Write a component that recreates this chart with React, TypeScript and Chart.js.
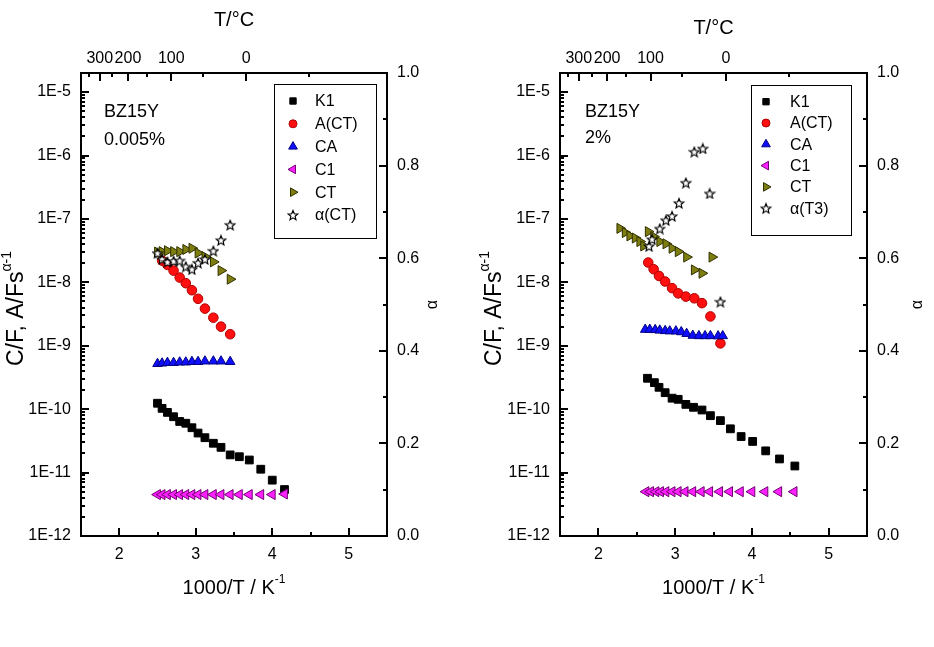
import React, { useEffect, useRef } from 'react';
import { Chart, registerables } from 'chart.js';
import { drawPoint } from 'chart.js/helpers';

Chart.register(...registerables);

const FONT = "'Liberation Sans', Arial, Helvetica, sans-serif";
const W = 467;
const H = 647;

// ---------- axis ticks ----------
const X_TICKS = [2, 3, 4, 5];
const X_MINOR = [2.5, 3.5, 4.5];
const TOP_T_LABELS = [300, 200, 100, 0];
const TOP_T_ALL = [350, 300, 250, 200, 150, 100, 50, 0, -50];
const Y_DECADES = [-12, -11, -10, -9, -8, -7, -6, -5];
const A_TICKS = [0, 0.2, 0.4, 0.6, 0.8, 1.0];

// ---------- left panel: BZ15Y 0.005% ----------
const L_K1_X = [2.50, 2.56, 2.63, 2.71, 2.79, 2.87, 2.95, 3.03, 3.12, 3.23, 3.33, 3.45, 3.57, 3.70, 3.85, 4.00, 4.16];
const L_K1_Y = [1.24e-10, 1.03e-10, 8.9e-11, 7.6e-11, 6.4e-11, 6.0e-11, 5.1e-11, 4.2e-11, 3.55e-11, 2.9e-11, 2.5e-11, 1.9e-11, 1.78e-11, 1.58e-11, 1.13e-11, 7.6e-12, 5.4e-12];
const L_ACT_X = [2.56, 2.63, 2.71, 2.79, 2.87, 2.95, 3.03, 3.12, 3.23, 3.33, 3.45];
const L_ACT_Y = [2.2e-8, 1.88e-8, 1.53e-8, 1.19e-8, 9.7e-9, 7.5e-9, 5.5e-9, 3.85e-9, 2.77e-9, 2.0e-9, 1.52e-9];
const L_CA_X = [2.50, 2.56, 2.63, 2.71, 2.79, 2.87, 2.95, 3.03, 3.12, 3.23, 3.33, 3.45];
const L_CA_Y = [5.2e-10, 5.3e-10, 5.4e-10, 5.4e-10, 5.5e-10, 5.5e-10, 5.6e-10, 5.6e-10, 5.7e-10, 5.7e-10, 5.7e-10, 5.6e-10];
const L_C1_X = [2.50, 2.56, 2.63, 2.71, 2.79, 2.87, 2.95, 3.03, 3.12, 3.23, 3.33, 3.45, 3.57, 3.70, 3.85, 4.00, 4.16];
const L_C1_Y = [4.5e-12, 4.5e-12, 4.5e-12, 4.5e-12, 4.5e-12, 4.5e-12, 4.5e-12, 4.5e-12, 4.5e-12, 4.5e-12, 4.5e-12, 4.5e-12, 4.5e-12, 4.5e-12, 4.5e-12, 4.5e-12, 4.6e-12];
const L_CT_X = [2.50, 2.56, 2.63, 2.71, 2.79, 2.87, 2.95, 3.03, 3.12, 3.23, 3.33, 3.45];
const L_CT_Y = [3.0e-8, 3.05e-8, 3.15e-8, 3.05e-8, 3.05e-8, 3.3e-8, 3.45e-8, 2.9e-8, 2.55e-8, 2.1e-8, 1.53e-8, 1.12e-8];
const L_AL_X = [2.50, 2.56, 2.63, 2.71, 2.79, 2.87, 2.95, 3.03, 3.12, 3.23, 3.33, 3.45];
const L_AL_Y = [0.611, 0.598, 0.592, 0.594, 0.595, 0.582, 0.576, 0.590, 0.598, 0.616, 0.639, 0.672];

// ---------- right panel: BZ15Y 2% ----------
const R_K1_X = [2.64, 2.73, 2.79, 2.87, 2.96, 3.04, 3.14, 3.24, 3.35, 3.46, 3.59, 3.72, 3.86, 4.01, 4.18, 4.36, 4.56];
const R_K1_Y = [3.07e-10, 2.62e-10, 2.21e-10, 1.82e-10, 1.49e-10, 1.43e-10, 1.19e-10, 1.07e-10, 9.7e-11, 7.9e-11, 6.6e-11, 4.9e-11, 3.7e-11, 3.1e-11, 2.2e-11, 1.64e-11, 1.27e-11];
const R_ACT_X = [2.65, 2.72, 2.79, 2.87, 2.96, 3.04, 3.14, 3.25, 3.35, 3.46, 3.59];
const R_ACT_Y = [2.05e-8, 1.61e-8, 1.26e-8, 1.03e-8, 8.1e-9, 6.7e-9, 5.95e-9, 5.6e-9, 4.7e-9, 2.9e-9, 1.09e-9];
const R_CA_X = [2.61, 2.67, 2.74, 2.80, 2.87, 2.93, 3.01, 3.08, 3.15, 3.23, 3.31, 3.39, 3.46, 3.56, 3.62];
const R_CA_Y = [1.8e-9, 1.8e-9, 1.78e-9, 1.75e-9, 1.72e-9, 1.7e-9, 1.7e-9, 1.65e-9, 1.55e-9, 1.45e-9, 1.43e-9, 1.43e-9, 1.43e-9, 1.42e-9, 1.43e-9];
const R_C1_X = [2.62, 2.68, 2.75, 2.81, 2.88, 2.96, 3.04, 3.13, 3.23, 3.34, 3.45, 3.58, 3.71, 3.85, 4.00, 4.17, 4.35, 4.55];
const R_C1_Y = [5.0e-12, 5.0e-12, 5.0e-12, 5.0e-12, 5.0e-12, 5.0e-12, 5.0e-12, 5.0e-12, 5.0e-12, 5.0e-12, 5.0e-12, 5.0e-12, 5.0e-12, 5.0e-12, 5.0e-12, 5.0e-12, 5.0e-12, 5.0e-12];
const R_CT_X = [2.28, 2.35, 2.41, 2.48, 2.54, 2.59, 2.65, 2.72, 2.80, 2.88, 2.96, 3.04, 3.15, 3.25, 3.35, 3.48];
const R_CT_Y = [7.1e-8, 6.1e-8, 5.4e-8, 5.0e-8, 4.4e-8, 3.75e-8, 6.3e-8, 5.25e-8, 4.4e-8, 4.05e-8, 3.45e-8, 3.05e-8, 2.5e-8, 1.57e-8, 1.39e-8, 2.5e-8];
const R_AL_X = [2.66, 2.70, 2.80, 2.88, 2.96, 3.05, 3.14, 3.25, 3.36, 3.45, 3.59];
const R_AL_Y = [0.626, 0.641, 0.664, 0.682, 0.691, 0.719, 0.763, 0.830, 0.837, 0.740, 0.506];

const L_LABELS = ['K1', 'A(CT)', 'CA', 'C1', 'CT', 'α(CT)'];
const R_LABELS = ['K1', 'A(CT)', 'CA', 'C1', 'CT', 'α(T3)'];

function makeStar(size: number) {
  const c = document.createElement('canvas');
  c.width = size;
  c.height = size;
  const ctx = c.getContext('2d')!;
  const cx = size / 2;
  const cy = size / 2 + 0.6;
  const R = size / 2 - 1;
  const r = R * 0.45;
  ctx.beginPath();
  for (let i = 0; i < 10; i++) {
    const ang = -Math.PI / 2 + (i * Math.PI) / 5;
    const rad = i % 2 === 0 ? R : r;
    ctx.lineTo(cx + rad * Math.cos(ang), cy + rad * Math.sin(ang));
  }
  ctx.closePath();
  ctx.fillStyle = '#fff';
  ctx.fill();
  ctx.strokeStyle = '#000';
  ctx.lineWidth = 1.2;
  ctx.lineJoin = 'miter';
  ctx.stroke();
  return c;
}

const zip = (xs: number[], ys: number[]) => xs.map((x, i) => ({ x, y: ys[i] }));

type Part = { t: string; sup?: boolean };

function drawRich(ctx: CanvasRenderingContext2D, parts: Part[], cx: number, cy: number, size: number) {
  const supSize = Math.round(size * 0.62);
  let total = 0;
  const widths = parts.map((p) => {
    ctx.font = `${p.sup ? supSize : size}px ${FONT}`;
    const w = ctx.measureText(p.t).width;
    total += w;
    return w;
  });
  let x = cx - total / 2;
  ctx.textAlign = 'left';
  ctx.textBaseline = 'middle';
  parts.forEach((p, i) => {
    ctx.font = `${p.sup ? supSize : size}px ${FONT}`;
    ctx.fillText(p.t, x, p.sup ? cy - size * 0.42 : cy);
    x += widths[i];
  });
}

const decoPlugin = {
  id: 'deco',
  afterDraw(chart: any, _args: any, o: any) {
    const ctx: CanvasRenderingContext2D = chart.ctx;
    const { left, right, top, bottom } = chart.chartArea;
    const sx = chart.scales.x;
    const st = chart.scales.xTop;
    const sy = chart.scales.y;
    const sa = chart.scales.y2;
    ctx.save();
    ctx.strokeStyle = '#000';
    ctx.fillStyle = '#000';
    ctx.lineWidth = 2;
    ctx.strokeRect(left, top, right - left, bottom - top);
    const MJ = 8;
    const MN = 4;
    ctx.beginPath();
    const xr = (v: number) => Math.round(v);
    X_TICKS.forEach((v) => {
      const p = xr(sx.getPixelForValue(v));
      ctx.moveTo(p, bottom);
      ctx.lineTo(p, bottom - MJ);
    });
    X_MINOR.forEach((v) => {
      const p = xr(sx.getPixelForValue(v));
      ctx.moveTo(p, bottom);
      ctx.lineTo(p, bottom - MN);
    });
    TOP_T_ALL.forEach((t) => {
      const v = 1000 / (t + 273.15);
      if (v < 1.5 || v > 5.5) return;
      const p = xr(st.getPixelForValue(v));
      const len = t % 100 === 0 ? MJ : MN;
      ctx.moveTo(p, top);
      ctx.lineTo(p, top + len);
    });
    Y_DECADES.forEach((n) => {
      for (let k = 1; k <= 9; k++) {
        const v = k * Math.pow(10, n);
        if (v > sy.max * 1.0001 || v < sy.min * 0.9999) continue;
        const p = xr(sy.getPixelForValue(v));
        ctx.moveTo(left, p);
        ctx.lineTo(left + (k === 1 ? MJ : MN), p);
      }
    });
    for (let i = 1; i < 10; i++) {
      const p = xr(sa.getPixelForValue(i / 10));
      ctx.moveTo(right, p);
      ctx.lineTo(right - (i % 2 === 0 ? MJ : MN), p);
    }
    ctx.stroke();

    // titles
    ctx.fillStyle = '#000';
    drawRich(ctx, [{ t: '1000/T / K' }, { t: '-1', sup: true }], (left + right) / 2, o.xTitleY, 20);
    drawRich(ctx, [{ t: 'T/°C' }], (left + right) / 2, o.topTitleY, 20);
    ctx.save();
    ctx.translate(o.yTitleX, (top + bottom) / 2 + 4);
    ctx.rotate(-Math.PI / 2);
    drawRich(ctx, [{ t: 'C/F, A/Fs' }, { t: 'α-1', sup: true }], 0, 0, 23);
    ctx.restore();
    ctx.save();
    ctx.translate(o.aTitleX, (top + bottom) / 2);
    ctx.rotate(-Math.PI / 2);
    drawRich(ctx, [{ t: 'α' }], 0, 0, 16);
    ctx.restore();

    // note
    ctx.font = `18px ${FONT}`;
    ctx.textAlign = 'left';
    ctx.textBaseline = 'middle';
    o.note.forEach((s: string, i: number) => ctx.fillText(s, o.noteX, o.noteY[i]));

    // legend
    const lg = o.legend;
    ctx.lineWidth = 1;
    ctx.strokeStyle = '#000';
    ctx.strokeRect(lg.x + 0.5, lg.y + 0.5, lg.w, lg.h);
    const ds = chart.data.datasets;
    ctx.font = `16px ${FONT}`;
    ctx.textBaseline = 'middle';
    lg.order.forEach((di: number, row: number) => {
      const d = ds[di];
      const y = lg.y0 + row * lg.dy;
      ctx.save();
      ctx.fillStyle = d.pointBackgroundColor;
      ctx.strokeStyle = d.pointBorderColor;
      ctx.lineWidth = d.pointBorderWidth;
      drawPoint(ctx, {
        pointStyle: d.pointStyle,
        radius: d.legendRadius,
        rotation: d.pointRotation || 0,
        borderWidth: d.pointBorderWidth,
      } as any, lg.mx, y);
      ctx.restore();
      ctx.fillStyle = '#000';
      ctx.fillText(d.label, lg.tx, y + 1);
    });
    ctx.restore();
  },
};

type PanelSpec = {
  areaLeft: number;
  areaRight: number;
  areaTop: number;
  areaBottom: number;
  labels: string[];
  series: { x: number[]; y: number[] }[];
  deco: any;
};

function buildConfig(p: PanelSpec): any {
  const star = makeStar(12);
  const styles = [
    { pointStyle: 'rect', radius: 5.5, bg: '#000000', bc: '#000000', rot: 0, lr: 4.5 },
    { pointStyle: 'circle', radius: 4.8, bg: '#ff1010', bc: '#b00000', rot: 0, lr: 4 },
    { pointStyle: 'triangle', radius: 5.5, bg: '#1010ff', bc: '#000080', rot: 0, lr: 5 },
    { pointStyle: 'triangle', radius: 5.8, bg: '#ff20ff', bc: '#700070', rot: -90, lr: 5 },
    { pointStyle: 'triangle', radius: 5.8, bg: '#7d7d10', bc: '#303000', rot: 90, lr: 5 },
    { pointStyle: star, radius: 6, bg: '#ffffff', bc: '#000000', rot: 0, lr: 6 },
  ];
  const drawOrder = [5, 4, 3, 2, 1, 0];
  const datasets = p.series.map((s, i) => ({
    label: p.labels[i],
    data: zip(s.x, s.y),
    yAxisID: i === 5 ? 'y2' : 'y',
    xAxisID: 'x',
    showLine: false,
    pointStyle: styles[i].pointStyle,
    pointRadius: styles[i].radius,
    pointRotation: styles[i].rot,
    pointBackgroundColor: styles[i].bg,
    pointBorderColor: styles[i].bc,
    pointBorderWidth: 1,
    legendRadius: styles[i].lr,
    order: drawOrder[i],
  }));
  const tickFont = { size: 16, family: FONT };
  return {
    type: 'scatter',
    data: { datasets },
    plugins: [decoPlugin],
    options: {
      animation: false,
      responsive: false,
      events: [],
      layout: { padding: 0 },
      plugins: {
        legend: { display: false },
        tooltip: { enabled: false },
        deco: p.deco,
      },
      scales: {
        x: {
          type: 'linear',
          position: 'bottom',
          min: 1.5,
          max: 5.5,
          grid: { display: false, drawTicks: false },
          border: { display: false },
          ticks: { autoSkip: false, maxRotation: 0, padding: 9, font: tickFont, color: '#000', callback: (v: number) => String(v) },
          afterBuildTicks: (s: any) => { s.ticks = X_TICKS.map((v) => ({ value: v })); },
          afterFit: (s: any) => { s.height = H - p.areaBottom; },
        },
        xTop: {
          type: 'linear',
          position: 'top',
          min: 1.5,
          max: 5.5,
          grid: { display: false, drawTicks: false },
          border: { display: false },
          ticks: {
            autoSkip: false, maxRotation: 0, padding: 5, font: tickFont, color: '#000',
            callback: (v: number) => String(Math.abs(Math.round(1000 / v - 273.15))),
          },
          afterBuildTicks: (s: any) => { s.ticks = TOP_T_LABELS.map((t) => ({ value: 1000 / (t + 273.15) })); },
          afterFit: (s: any) => { s.height = p.areaTop; },
        },
        y: {
          type: 'logarithmic',
          position: 'left',
          min: 1e-12,
          max: 2e-5,
          grid: { display: false, drawTicks: false },
          border: { display: false },
          ticks: { autoSkip: false, padding: 10, font: tickFont, color: '#000', callback: (v: number) => '1E' + Math.round(Math.log10(v)) },
          afterBuildTicks: (s: any) => { s.ticks = Y_DECADES.map((n) => ({ value: Math.pow(10, n) })); },
          afterFit: (s: any) => { s.width = p.areaLeft; },
        },
        y2: {
          type: 'linear',
          position: 'right',
          min: 0,
          max: 1,
          grid: { display: false, drawTicks: false },
          border: { display: false },
          ticks: { autoSkip: false, padding: 10, font: tickFont, color: '#000', callback: (v: number) => v.toFixed(1) },
          afterBuildTicks: (s: any) => { s.ticks = A_TICKS.map((v) => ({ value: v })); },
          afterFit: (s: any) => { s.width = W - p.areaRight; },
        },
      },
    },
  };
}

const LEFT_SPEC: PanelSpec = {
  areaLeft: 81,
  areaRight: 387,
  areaTop: 73,
  areaBottom: 536,
  labels: L_LABELS,
  series: [
    { x: L_K1_X, y: L_K1_Y },
    { x: L_ACT_X, y: L_ACT_Y },
    { x: L_CA_X, y: L_CA_Y },
    { x: L_C1_X, y: L_C1_Y },
    { x: L_CT_X, y: L_CT_Y },
    { x: L_AL_X, y: L_AL_Y },
  ],
  deco: {
    xTitleY: 588,
    topTitleY: 20,
    yTitleX: 17,
    aTitleX: 433,
    note: ['BZ15Y', '0.005%'],
    noteX: 104,
    noteY: [112, 140],
    legend: { x: 274, y: 84, w: 102, h: 154, y0: 101, dy: 22.8, mx: 293, tx: 315, order: [0, 1, 2, 3, 4, 5] },
  },
};

const RIGHT_SPEC: PanelSpec = {
  areaLeft: 93,
  areaRight: 400,
  areaTop: 73,
  areaBottom: 536,
  labels: R_LABELS,
  series: [
    { x: R_K1_X, y: R_K1_Y },
    { x: R_ACT_X, y: R_ACT_Y },
    { x: R_CA_X, y: R_CA_Y },
    { x: R_C1_X, y: R_C1_Y },
    { x: R_CT_X, y: R_CT_Y },
    { x: R_AL_X, y: R_AL_Y },
  ],
  deco: {
    xTitleY: 588,
    topTitleY: 28,
    yTitleX: 28,
    aTitleX: 451,
    note: ['BZ15Y', '2%'],
    noteX: 118,
    noteY: [112, 138],
    legend: { x: 284, y: 85, w: 100, h: 150, y0: 101.7, dy: 21.3, mx: 299, tx: 323, order: [0, 1, 2, 3, 4, 5] },
  },
};

function Panel({ spec, left }: { spec: PanelSpec; left: number }) {
  const ref = useRef<HTMLCanvasElement>(null);
  useEffect(() => {
    const chart = new Chart(ref.current!, buildConfig(spec));
    return () => chart.destroy();
  }, [spec]);
  return (
    <div style={{ position: 'absolute', left, top: 0, width: W, height: H }}>
      <canvas ref={ref} width={W} height={H} style={{ width: W, height: H, display: 'block' }} />
    </div>
  );
}

export default function App() {
  return (
    <div style={{ position: 'absolute', left: 0, top: 0, width: 934, height: 647, background: '#fff', overflow: 'hidden' }}>
      <Panel spec={LEFT_SPEC} left={0} />
      <Panel spec={RIGHT_SPEC} left={467} />
    </div>
  );
}
